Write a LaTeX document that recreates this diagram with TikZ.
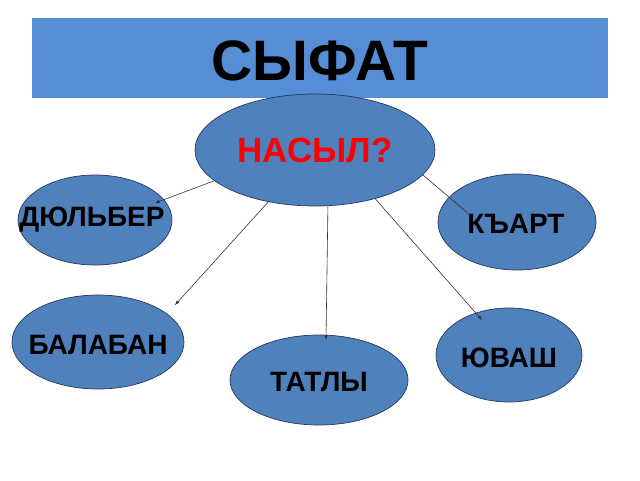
\documentclass[tikz,border=0pt]{standalone}
\usepackage{fontspec}
\setmainfont{Liberation Sans}
\usepackage{tikz}
\usetikzlibrary{arrows,calc,shapes.geometric}
\definecolor{bannerblue}{RGB}{85,142,213}
\definecolor{ovalblue}{RGB}{79,129,189}
\definecolor{ovalline}{RGB}{38,58,92}

\begin{document}
\begin{tikzpicture}[x=1pt,y=-1pt,>=latex,
  oval/.style={ellipse,draw=ovalline,line width=0.7pt,fill=ovalblue,inner sep=0pt},
  word/.style={font=\bfseries\fontsize{28}{32}\selectfont},
  link/.style={draw=black!80,line width=0.6pt}]
\useasboundingbox (0,0) rectangle (640,480);
\fill[bannerblue] (32,18) rectangle (608,98);
\node[font=\bfseries\fontsize{57}{62}\selectfont] (title) at (320,61) {СЫФАТ};
\node[oval,minimum width=240,minimum height=112] (nasyl) at (315,150) {};
\node[text=red,font=\bfseries\fontsize{35}{40}\selectfont] at (nasyl) {НАСЫЛ?};
\node[oval,minimum width=154,minimum height=90] (dyulber) at (95,220) {};
\node[oval,minimum width=158,minimum height=96] (kyart) at (517,222) {};
\node[oval,minimum width=172,minimum height=94] (balaban) at (98,342) {};
\node[oval,minimum width=178,minimum height=90] (tatly) at (319,380) {};
\node[oval,minimum width=146,minimum height=94] (yuvash) at (509,355) {};
\node[word] at ($(dyulber)+(-3,0)$) {ДЮЛЬБЕР};
\node[word] at ($(kyart)+(-1,2)$) {КЪАРТ};
\node[word] at ($(balaban)+(0,3)$) {БАЛАБАН};
\node[word] at ($(tatly)+(0,2)$) {ТАТЛЫ};
\node[word] at ($(yuvash)+(0,3)$) {ЮВАШ};
% arrows from the question
\draw[link,->] (nasyl.197) -- ($(dyulber)+(60,-17)$);
\draw[link,->] (nasyl.228) -- ($(balaban)+(77,-37)$);
\draw[link,->] (nasyl.283) -- ($(tatly)+(7,-40)$);
\draw[link,->] (nasyl.321) -- ($(yuvash)+(-27,-35)$);
\draw[link] (nasyl.347) -- ($(kyart)+(-47,-7)$);
\end{tikzpicture}
\end{document}
